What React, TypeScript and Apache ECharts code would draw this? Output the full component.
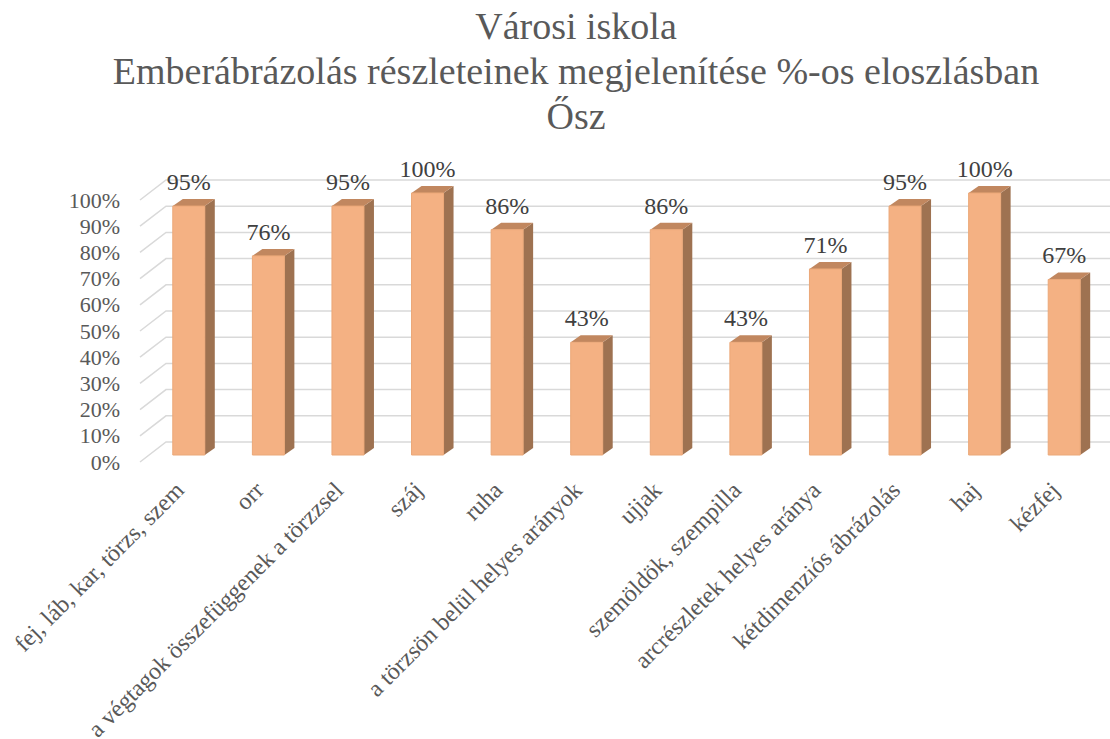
import React, { useEffect, useRef } from "react";
import * as echarts from "echarts";

const titleLines = [
  "Városi iskola",
  "Emberábrázolás részleteinek megjelenítése %-os eloszlásban",
  "Ősz",
];

const categories = [
  "fej, láb, kar, törzs, szem",
  "orr",
  "a végtagok összefüggenek a törzzsel",
  "száj",
  "ruha",
  "a törzsön belül helyes arányok",
  "ujjak",
  "szemöldök, szempilla",
  "arcrészletek helyes aránya",
  "kétdimenziós ábrázolás",
  "haj",
  "kézfej",
];

const values = [95, 76, 95, 100, 86, 43, 86, 43, 71, 95, 100, 67];

const yTicks = [0, 10, 20, 30, 40, 50, 60, 70, 80, 90, 100];

const FONT = "Liberation Serif";
const TEXT_COLOR = "#595959";

export default function App() {
  const ref = useRef<HTMLDivElement>(null);

  useEffect(() => {
    if (!ref.current) return;
    const chart = echarts.init(ref.current, null, { renderer: "svg" });

    const floorDx = 26;
    const floorDy = -20;
    const barDx = 9;
    const barDy = -7;
    const sideDx = 10;
    const sideDy = -7;
    const barW = 32;

    const option: any = {
      animation: false,
      backgroundColor: "#ffffff",
      graphic: titleLines.map((t, i) => ({
        type: "text",
        x: 576,
        y: 26 + i * 45,
        style: {
          text: t,
          font: '38px "Liberation Serif", serif',
          fontSize: 38,
          fontFamily: FONT,
          fill: TEXT_COLOR,
          align: "center",
          verticalAlign: "middle",
        },
      })),
      grid: {
        left: 140,
        right: 15,
        top: 200,
        bottom: 277,
        containLabel: false,
        outerBoundsMode: "none",
      },
      xAxis: {
        type: "category",
        data: categories,
        axisLine: { show: false },
        axisTick: { show: false },
        splitLine: { show: false },
        axisLabel: {
          interval: 0,
          rotate: 45,
          margin: 24,
          fontSize: 24,
          fontFamily: FONT,
          color: TEXT_COLOR,
        },
      },
      yAxis: {
        type: "value",
        min: 0,
        max: 100,
        interval: 10,
        axisLine: { show: false },
        axisTick: { show: false },
        splitLine: { show: false },
        axisLabel: {
          formatter: "{value}%",
          margin: 20,
          fontSize: 22,
          fontFamily: FONT,
          color: TEXT_COLOR,
        },
      },
      series: [
        {
          type: "custom",
          silent: true,
          z: 1,
          data: yTicks.map((v) => [0, v]),
          renderItem: (params: any, api: any) => {
            const cs = params.coordSys;
            const y = api.coord([0, api.value(1)])[1];
            const x0 = cs.x;
            const x1 = cs.x + cs.width + floorDx;
            return {
              type: "polyline",
              shape: {
                points: [
                  [x0, y],
                  [x0 + floorDx, y + floorDy],
                  [x1, y + floorDy],
                ],
              },
              style: { stroke: "#D9D9D9", lineWidth: 1.5, fill: "none" },
            };
          },
        },
        {
          type: "custom",
          silent: true,
          z: 2,
          data: values.map((v, i) => [i, v]),
          renderItem: (params: any, api: any) => {
            const idx = api.value(0);
            const v = api.value(1);
            const top = api.coord([idx, v]);
            const base = api.coord([idx, 0]);
            const cx = top[0] + barDx;
            const yt = top[1] + barDy;
            const yb = base[1] + barDy;
            const xl = cx - barW / 2;
            const xr = cx + barW / 2;
            return {
              type: "group",
              children: [
                {
                  type: "polygon",
                  shape: {
                    points: [
                      [xr, yt],
                      [xr + sideDx, yt + sideDy],
                      [xr + sideDx, yb + sideDy],
                      [xr, yb],
                    ],
                  },
                  style: { fill: "#9E7251" },
                },
                {
                  type: "polygon",
                  shape: {
                    points: [
                      [xl, yt],
                      [xl + sideDx, yt + sideDy],
                      [xr + sideDx, yt + sideDy],
                      [xr, yt],
                    ],
                  },
                  style: { fill: "#C1875F" },
                },
                {
                  type: "rect",
                  shape: { x: xl, y: yt, width: barW, height: yb - yt },
                  style: { fill: "#F4B183", stroke: "#EBA878", lineWidth: 1 },
                },
                {
                  type: "text",
                  x: cx,
                  y: yt - 12,
                  style: {
                    text: `${v}%`,
                    font: '24px "Liberation Serif", serif',
                    fontSize: 24,
                    fontFamily: FONT,
                    fill: "#404040",
                    align: "center",
                    verticalAlign: "bottom",
                  },
                },
              ],
            };
          },
        },
      ],
    };

    chart.setOption(option);
    return () => chart.dispose();
  }, []);

  return (
    <div
      ref={ref}
      style={{
        position: "fixed",
        left: 0,
        top: 0,
        width: 1110,
        height: 739,
        background: "#fff",
      }}
    />
  );
}
